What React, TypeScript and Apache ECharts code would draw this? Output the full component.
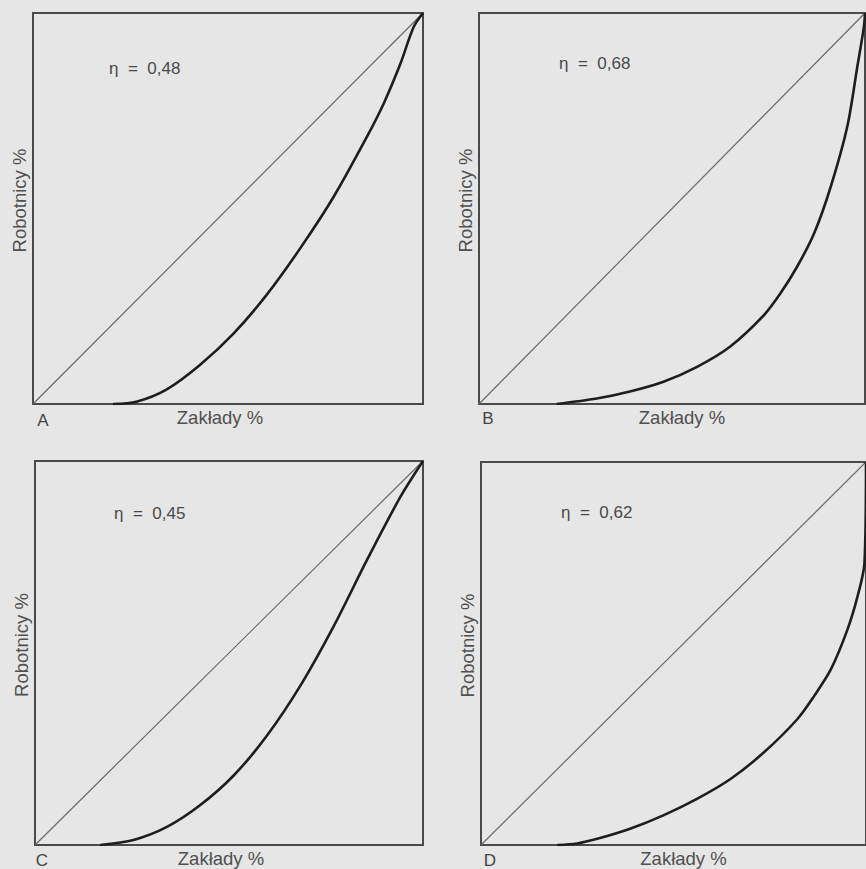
import React, { useEffect, useRef } from "react";
import * as echarts from "echarts";

const panelLetters = ["A", "B", "C", "D"];
const etaLabels = ["η  =  0,48", "η  =  0,68", "η  =  0,45", "η  =  0,62"];
const xAxisName = "Zakłady %";
const yAxisName = "Robotnicy %";
const equalityLine = [
  [0, 0],
  [100, 100],
];

const curveA = [
  [20.5, 0], [26.5, 0.6], [34.2, 3.7], [42.8, 10], [51.4, 18], [59.9, 27.9],
  [68.5, 39.8], [77.1, 53], [85.6, 68.3], [89.9, 76.8], [94.2, 87], [97.6, 96.4], [100, 100],
];
const curveB = [
  [20.1, 0], [30.5, 1.4], [39.1, 3.2], [47.8, 5.7], [56.5, 9.5], [65.1, 14.7],
  [73.8, 22.7], [78.1, 28.3], [82.4, 35.1], [86.8, 43.6], [91.1, 55.5], [95.4, 70.9],
  [98, 86.2], [99.7, 96.4], [100, 100],
];
const curveC = [
  [16.8, 0], [25.4, 1.3], [34, 4.7], [42.6, 10.4], [51.2, 18.1], [59.8, 28.5],
  [68.4, 41.5], [77, 57], [85.6, 74.3], [94.2, 90.7], [100, 100],
];
const curveD = [
  [19.8, 0], [25, 0.4], [30.2, 1.6], [38.9, 4.3], [47.5, 7.8], [56.2, 12.1],
  [64.9, 17.3], [73.5, 24.2], [82.2, 32.9], [86.6, 39], [90.9, 45.9], [95.2, 56.3],
  [97.8, 64.9], [99.6, 73.6], [100, 100],
];
const curves = [curveA, curveB, curveC, curveD];

// layout (pixels)
const grids = [
  { left: 33, top: 13, width: 390, height: 391 },
  { left: 479, top: 13, width: 386, height: 391 },
  { left: 35, top: 461, width: 388, height: 386 },
  { left: 481, top: 462, width: 385, height: 385 },
];
const letterPos = [
  [43, 420],
  [488, 418],
  [42, 860],
  [490, 860],
];
const etaPos = [
  [109, 68],
  [559, 63],
  [114, 513],
  [561, 512],
];

const FONT = "'Liberation Sans', Arial, Helvetica, sans-serif";
const TEXT = "#505050";
const FRAME = "#4a4a4a";

export default function App() {
  const ref = useRef<HTMLDivElement>(null);
  useEffect(() => {
    if (!ref.current) return;
    const chart = echarts.init(ref.current, undefined, { renderer: "svg" });
    const xAxis: any[] = [];
    const yAxis: any[] = [];
    const series: any[] = [];
    const graphic: any[] = [];
    grids.forEach((g, i) => {
      xAxis.push({
        gridIndex: i,
        type: "value",
        min: 0,
        max: 100,
        axisLine: { show: true, lineStyle: { color: FRAME, width: 2 } },
        axisTick: { show: false },
        axisLabel: { show: false },
        splitLine: { show: false },
        name: xAxisName,
        nameLocation: "middle",
        nameGap: 4,
        nameTextStyle: {
          color: TEXT,
          fontSize: 18.5,
          fontFamily: FONT,
          padding: i % 2 === 0 ? [0, 16, 0, 0] : [0, 0, 0, 20],
        },
      });
      yAxis.push({
        gridIndex: i,
        type: "value",
        min: 0,
        max: 100,
        axisLine: { show: true, lineStyle: { color: FRAME, width: 2 } },
        axisTick: { show: false },
        axisLabel: { show: false },
        splitLine: { show: false },
        name: yAxisName,
        nameLocation: "middle",
        nameGap: 4,
        nameTextStyle: {
          color: TEXT,
          fontSize: 18.5,
          fontFamily: FONT,
          padding: [0, 0, 0, 16],
        },
      });
      series.push({
        type: "line",
        xAxisIndex: i,
        yAxisIndex: i,
        data: equalityLine,
        symbol: "none",
        silent: true,
        lineStyle: { color: "#6a6a6a", width: 1.2 },
      });
      series.push({
        type: "line",
        xAxisIndex: i,
        yAxisIndex: i,
        data: curves[i],
        symbol: "none",
        smooth: 0.3,
        silent: true,
        lineStyle: { color: "#1e1e1e", width: 2.6 },
      });
      graphic.push({
        type: "text",
        x: letterPos[i][0],
        y: letterPos[i][1],
        style: {
          text: panelLetters[i],
          fill: "#444",
          font: `17px ${FONT}`,
          align: "center",
          verticalAlign: "middle",
        },
      });
      graphic.push({
        type: "text",
        x: etaPos[i][0],
        y: etaPos[i][1],
        style: {
          text: etaLabels[i],
          fill: "#4a4a4a",
          font: `17px ${FONT}`,
          align: "left",
          verticalAlign: "middle",
        },
      });
    });
    chart.setOption({
      animation: false,
      backgroundColor: "#e6e6e6",
      grid: grids.map((g) => ({
        ...g,
        show: true,
        borderColor: FRAME,
        borderWidth: 2,
        backgroundColor: "transparent",
        containLabel: false,
      })),
      xAxis,
      yAxis,
      series,
      graphic,
    });
    return () => chart.dispose();
  }, []);
  return (
    <div
      ref={ref}
      style={{ position: "fixed", left: 0, top: 0, width: 866, height: 869 }}
    />
  );
}
